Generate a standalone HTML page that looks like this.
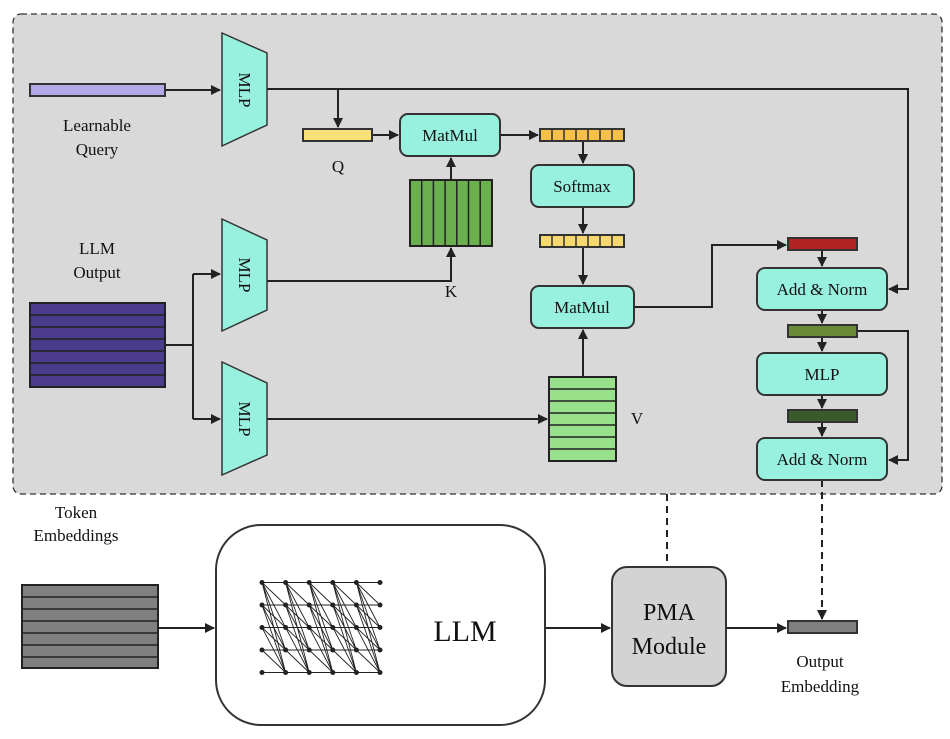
<!DOCTYPE html>
<html><head><meta charset="utf-8"><style>
html,body{margin:0;padding:0;background:#fff}
svg{display:block}
text{font-family:"Liberation Serif",serif;fill:#111}
</style></head><body>
<svg width="950" height="739" viewBox="0 0 950 739" xmlns="http://www.w3.org/2000/svg">
<defs>
<marker id="a" markerWidth="10" markerHeight="10" refX="9" refY="5" orient="auto" markerUnits="userSpaceOnUse"><path d="M0,0 L10,5 L0,10 z" fill="#222"/></marker>
<g id="nn" stroke="#222" stroke-width="0.9">
<path d="M0,582.5 L23.6,605 M0,582.5 L23.6,627.5 M0,582.5 L23.6,650 M0,582.5 L23.6,672.5 M0,605 L23.6,627.5 M0,605 L23.6,650 M0,605 L23.6,672.5 M0,627.5 L23.6,650 M0,627.5 L23.6,672.5 M0,650 L23.6,672.5 M0,582.5 L23.6,582.5 M0,605 L23.6,605 M0,627.5 L23.6,627.5 M0,650 L23.6,650 M0,672.5 L23.6,672.5" fill="none"/>
</g>
</defs>
<rect x="13" y="14" width="929" height="480" rx="8" fill="#d9d9d9" stroke="#333" stroke-width="1.3" stroke-dasharray="6,4"/>
<g stroke="#222" stroke-width="2" fill="none">
<path d="M165,90 L220,90" marker-end="url(#a)"/>
<path d="M267,89 L908,89 L908,289 L889,289" marker-end="url(#a)"/>
<path d="M338,89 L338,127" marker-end="url(#a)"/>
<path d="M372,135 L398,135" marker-end="url(#a)"/>
<path d="M451,180 L451,158" marker-end="url(#a)"/>
<path d="M500,135 L538,135" marker-end="url(#a)"/>
<path d="M583,141 L583,163" marker-end="url(#a)"/>
<path d="M583,207 L583,233" marker-end="url(#a)"/>
<path d="M583,247 L583,284" marker-end="url(#a)"/>
<path d="M583,377 L583,330" marker-end="url(#a)"/>
<path d="M165,345 L193,345"/>
<path d="M193,274 L193,419"/>
<path d="M193,274 L220,274" marker-end="url(#a)"/>
<path d="M193,419 L220,419" marker-end="url(#a)"/>
<path d="M267,281 L451,281 L451,248" marker-end="url(#a)"/>
<path d="M267,419 L547,419" marker-end="url(#a)"/>
<path d="M634,307 L712,307 L712,245 L786,245" marker-end="url(#a)"/>
<path d="M822,250 L822,266" marker-end="url(#a)"/>
<path d="M822,310 L822,323" marker-end="url(#a)"/>
<path d="M857,331 L908,331 L908,460 L889,460" marker-end="url(#a)"/>
<path d="M822,337 L822,351" marker-end="url(#a)"/>
<path d="M822,395 L822,408" marker-end="url(#a)"/>
<path d="M822,422 L822,436" marker-end="url(#a)"/>
<path d="M158,628 L214,628" marker-end="url(#a)"/>
<path d="M545,628 L610,628" marker-end="url(#a)"/>
<path d="M726,628 L786,628" marker-end="url(#a)"/>
<path d="M822,480 L822,619" stroke-dasharray="7,5" marker-end="url(#a)"/>
<path d="M667,494 L667,567" stroke-dasharray="7,5"/>
</g>
<!-- learnable query -->
<rect x="30" y="84" width="135" height="12" fill="#b4a7e6" stroke="#333" stroke-width="2"/>
<text x="97" y="131" font-size="17" text-anchor="middle">Learnable</text>
<text x="97" y="155" font-size="17" text-anchor="middle">Query</text>
<!-- MLP trapezoids -->
<g fill="#98f0df" stroke="#333" stroke-width="1.5">
<path d="M222,33 L267,53 L267,125 L222,146 z"/>
<path d="M222,219 L267,240 L267,310 L222,331 z"/>
<path d="M222,362 L267,383 L267,455 L222,475 z"/>
</g>
<g font-size="17">
<text transform="translate(239,90) rotate(90)" text-anchor="middle">MLP</text>
<text transform="translate(239,275) rotate(90)" text-anchor="middle">MLP</text>
<text transform="translate(239,419) rotate(90)" text-anchor="middle">MLP</text>
</g>
<!-- Q -->
<rect x="303" y="129" width="69" height="12" fill="#f7e27a" stroke="#333" stroke-width="2"/>
<text x="338" y="172" font-size="17" text-anchor="middle">Q</text>
<!-- boxes -->
<g fill="#98f0df" stroke="#333" stroke-width="2">
<rect x="400" y="114" width="100" height="42" rx="8"/>
<rect x="531" y="165" width="103" height="42" rx="8"/>
<rect x="531" y="286" width="103" height="42" rx="8"/>
<rect x="757" y="268" width="130" height="42" rx="8"/>
<rect x="757" y="353" width="130" height="42" rx="8"/>
<rect x="757" y="438" width="130" height="42" rx="8"/>
</g>
<g font-size="17" text-anchor="middle">
<text x="450" y="141">MatMul</text>
<text x="582" y="192">Softmax</text>
<text x="582" y="313">MatMul</text>
<text x="822" y="295">Add &amp; Norm</text>
<text x="822" y="380">MLP</text>
<text x="822" y="465">Add &amp; Norm</text>
</g>
<!-- K -->
<rect x="410" y="180" width="82" height="66" fill="#6ab04c" stroke="#222" stroke-width="2"/>
<g stroke="#222" stroke-width="1.5">
<path d="M421.7,180V246M433.4,180V246M445.1,180V246M456.8,180V246M468.5,180V246M480.2,180V246"/>
</g>
<text x="451" y="297" font-size="17" text-anchor="middle">K</text>
<!-- attention rows -->
<rect x="540" y="129" width="84" height="12" fill="#f5c04a" stroke="#333" stroke-width="2"/>
<rect x="540" y="235" width="84" height="12" fill="#f5d870" stroke="#333" stroke-width="2"/>
<g stroke="#333" stroke-width="1.5">
<path d="M552,129V141M564,129V141M576,129V141M588,129V141M600,129V141M612,129V141"/>
<path d="M552,235V247M564,235V247M576,235V247M588,235V247M600,235V247M612,235V247"/>
</g>
<!-- V -->
<rect x="549" y="377" width="67" height="84" fill="#98e08a" stroke="#222" stroke-width="2"/>
<g stroke="#222" stroke-width="1.5">
<path d="M549,389H616M549,401H616M549,413H616M549,425H616M549,437H616M549,449H616"/>
</g>
<text x="637" y="424" font-size="17" text-anchor="middle">V</text>
<!-- LLM output -->
<text x="97" y="254" font-size="17" text-anchor="middle">LLM</text>
<text x="97" y="278" font-size="17" text-anchor="middle">Output</text>
<rect x="30" y="303" width="135" height="84" fill="#4a3b8c" stroke="#222" stroke-width="2"/>
<g stroke="#222" stroke-width="1.5">
<path d="M30,315H165M30,327H165M30,339H165M30,351H165M30,363H165M30,375H165"/>
</g>
<!-- right bars -->
<rect x="788" y="238" width="69" height="12" fill="#b22222" stroke="#333" stroke-width="2"/>
<rect x="788" y="325" width="69" height="12" fill="#6a8a3a" stroke="#333" stroke-width="2"/>
<rect x="788" y="410" width="69" height="12" fill="#3a5a2a" stroke="#333" stroke-width="2"/>
<!-- bottom -->
<text x="76" y="518" font-size="17" text-anchor="middle">Token</text>
<text x="76" y="541" font-size="17" text-anchor="middle">Embeddings</text>
<rect x="22" y="585" width="136" height="83" fill="#808080" stroke="#222" stroke-width="2"/>
<g stroke="#222" stroke-width="1.5">
<path d="M22,597H158M22,609H158M22,621H158M22,633H158M22,645H158M22,657H158"/>
</g>
<rect x="216" y="525" width="329" height="200" rx="45" fill="#fff" stroke="#333" stroke-width="2"/>
<use href="#nn" x="262"/><use href="#nn" x="285.6"/><use href="#nn" x="309.2"/><use href="#nn" x="332.8"/><use href="#nn" x="356.4"/>
<g fill="#222">
<circle cx="262" cy="582.5" r="2.5"/><circle cx="262" cy="605" r="2.5"/><circle cx="262" cy="627.5" r="2.5"/><circle cx="262" cy="650" r="2.5"/><circle cx="262" cy="672.5" r="2.5"/>
<circle cx="285.6" cy="582.5" r="2.5"/><circle cx="285.6" cy="605" r="2.5"/><circle cx="285.6" cy="627.5" r="2.5"/><circle cx="285.6" cy="650" r="2.5"/><circle cx="285.6" cy="672.5" r="2.5"/>
<circle cx="309.2" cy="582.5" r="2.5"/><circle cx="309.2" cy="605" r="2.5"/><circle cx="309.2" cy="627.5" r="2.5"/><circle cx="309.2" cy="650" r="2.5"/><circle cx="309.2" cy="672.5" r="2.5"/>
<circle cx="332.8" cy="582.5" r="2.5"/><circle cx="332.8" cy="605" r="2.5"/><circle cx="332.8" cy="627.5" r="2.5"/><circle cx="332.8" cy="650" r="2.5"/><circle cx="332.8" cy="672.5" r="2.5"/>
<circle cx="356.4" cy="582.5" r="2.5"/><circle cx="356.4" cy="605" r="2.5"/><circle cx="356.4" cy="627.5" r="2.5"/><circle cx="356.4" cy="650" r="2.5"/><circle cx="356.4" cy="672.5" r="2.5"/>
<circle cx="380" cy="582.5" r="2.5"/><circle cx="380" cy="605" r="2.5"/><circle cx="380" cy="627.5" r="2.5"/><circle cx="380" cy="650" r="2.5"/><circle cx="380" cy="672.5" r="2.5"/>
</g>
<text x="465" y="641" font-size="30" text-anchor="middle">LLM</text>
<rect x="612" y="567" width="114" height="119" rx="15" fill="#d3d3d3" stroke="#333" stroke-width="2"/>
<text x="669" y="620" font-size="24" text-anchor="middle" fill="#333">PMA</text>
<text x="669" y="654" font-size="24" text-anchor="middle" fill="#333">Module</text>
<rect x="788" y="621" width="69" height="12" fill="#808080" stroke="#333" stroke-width="2"/>
<text x="820" y="667" font-size="17" text-anchor="middle">Output</text>
<text x="820" y="692" font-size="17" text-anchor="middle">Embedding</text>
</svg>
</body></html>
